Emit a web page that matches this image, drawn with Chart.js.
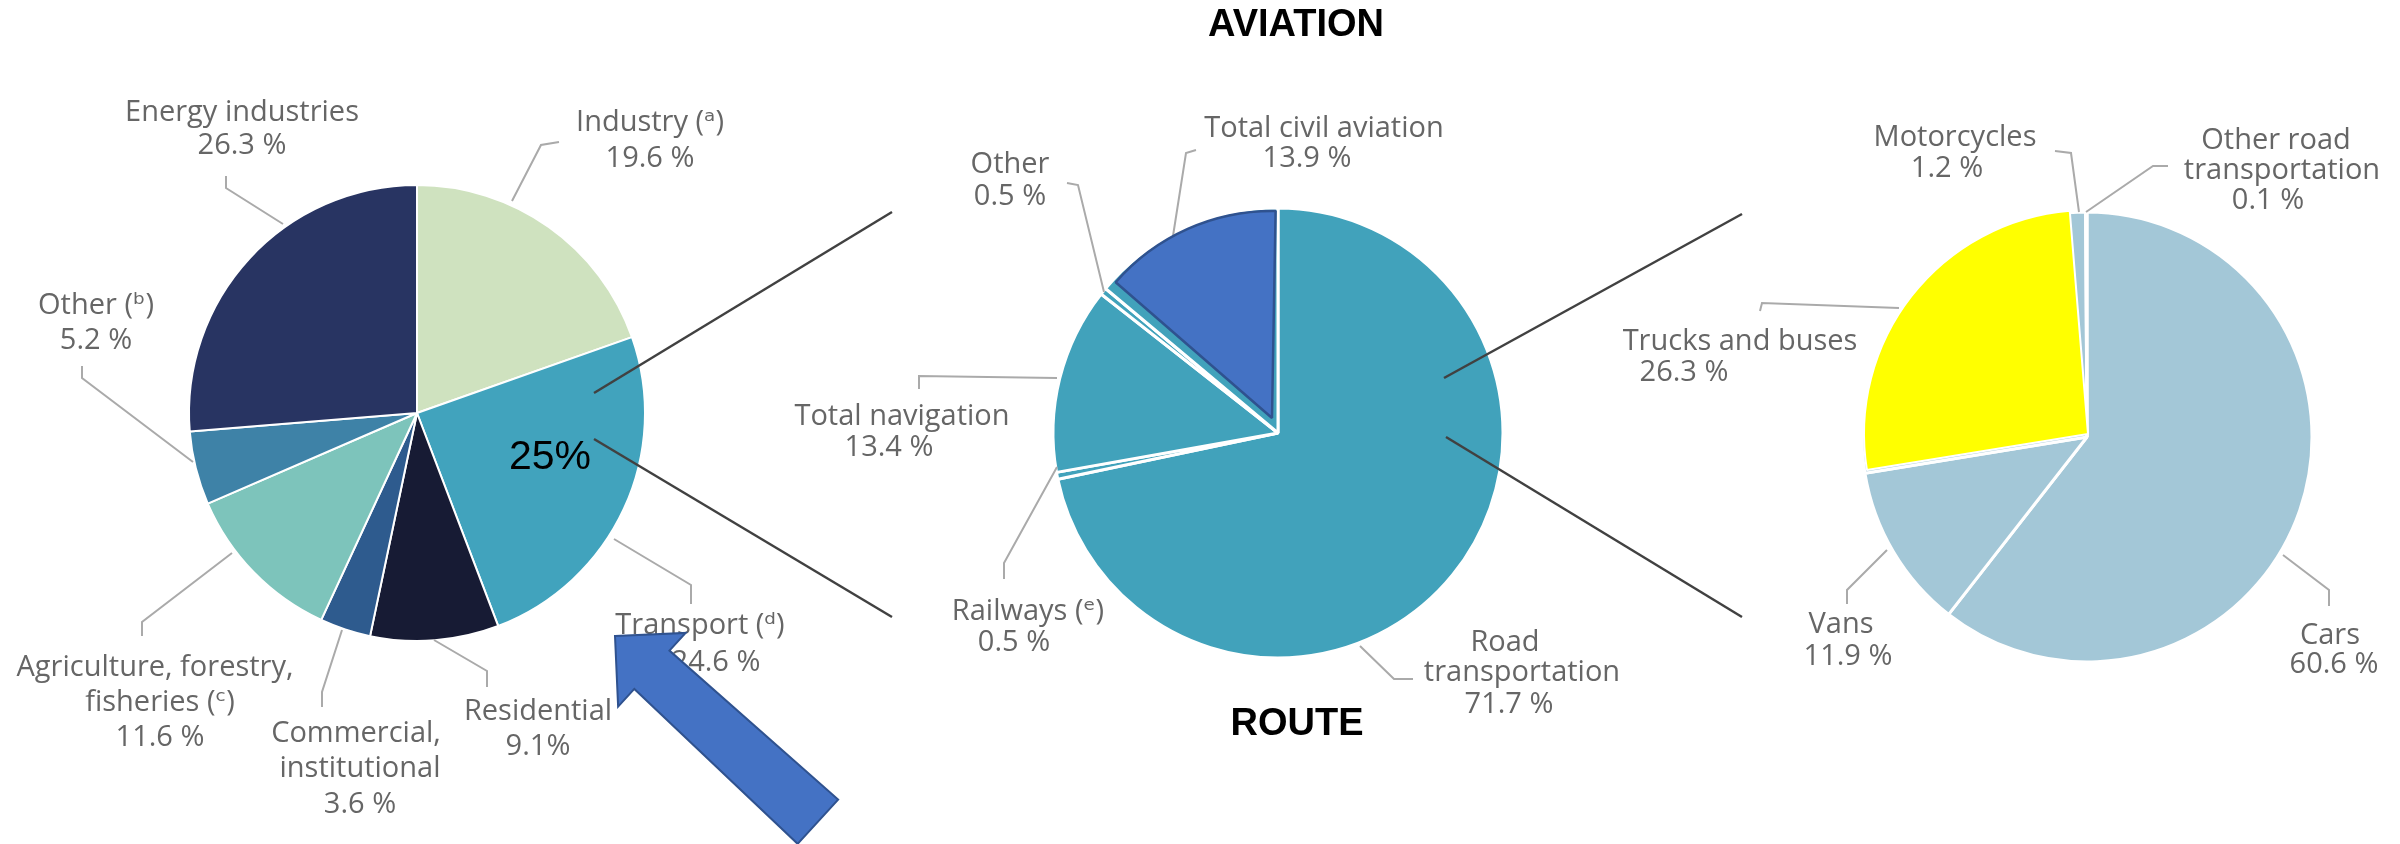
<!DOCTYPE html>
<html>
<head>
<meta charset="utf-8">
<script src="https://cdn.jsdelivr.net/npm/chart.js@4.4.0/dist/chart.umd.min.js"></script>
<style>
html,body{margin:0;padding:0;background:#fff;}
#wrap{position:relative;width:2400px;height:844px;overflow:hidden;background:#fff;}
#wrap canvas{position:absolute;left:0;top:0;}
</style>
</head>
<body>
<div id="wrap">
<canvas id="pie1" width="2400" height="844"></canvas>
<canvas id="pie2" width="2400" height="844"></canvas>
<canvas id="pie2hi" width="2400" height="844"></canvas>
<canvas id="pie3" width="2400" height="844"></canvas>
<canvas id="pie3hi" width="2400" height="844"></canvas>
</div>
<script>
// ---------------- DATA ----------------
const sectorLabels = [['Industry (ᵃ)'], ['Transport (ᵈ)'], ['Residential'], ['Commercial,', 'institutional'],
  ['Agriculture, forestry,', 'fisheries (ᶜ)'], ['Other (ᵇ)'], ['Energy industries']];
const sectorValues = [19.6, 24.6, 9.1, 3.6, 11.6, 5.2, 26.3];

const transportLabels = [['Road', 'transportation'], ['Railways (ᵉ)'], ['Total navigation'], ['Other'], ['Total civil aviation']];
const transportValues = [71.7, 0.5, 13.4, 0.5, 13.9];

const roadLabels = [['Cars'], ['Vans'], ['Trucks and buses'], ['Motorcycles'], ['Other road', 'transportation']];
const roadValues = [60.6, 11.9, 26.3, 1.2, 0.1];

const titleTop = 'AVIATION';
const titleBottom = 'ROUTE';

// ---------------- LAYOUT / STYLE ----------------
const W = 2400, H = 844;
const TEXT_FONT = "29px 'Open Sans', 'DejaVu Sans', sans-serif";
const TEXT_COLOR = '#666666';
const LEADER_COLOR = '#aaaaaa';

function pad(cx, cy) {
  const p = {left: 0, right: 0, top: 0, bottom: 0};
  if (cx * 2 < W) p.right = W - 2 * cx; else p.left = 2 * cx - W;
  if (cy * 2 < H) p.bottom = H - 2 * cy; else p.top = 2 * cy - H;
  return p;
}
function fmt(v, sep) { return v.toFixed(1) + (sep === undefined ? ' ' : sep) + '%'; }

// callout layout: index into data, leader path, text line centres (name lines + value line)
const pie1Callouts = [
  {i: 0, path: [[512,201],[541,145],[559,142]], pos: [[650,123],[650,159]]},
  {i: 1, path: [[614,539],[691,585],[691,604]], pos: [[700,626],[716,663]]},
  {i: 2, path: [[434,640],[487,671],[487,687]], pos: [[538,712],[538,747]], sep: ''},
  {i: 3, path: [[342,630],[322,692],[322,707]], pos: [[356,734],[360,769],[360,805]]},
  {i: 4, path: [[232,553],[142,622],[142,636]], pos: [[155,668],[160,703],[160,738]]},
  {i: 5, path: [[193,462],[82,378],[82,366]], pos: [[96,306],[96,341]]},
  {i: 6, path: [[283,224],[226,188],[226,176]], pos: [[242,113],[242,146]]}
];
const pie2Callouts = [
  {i: 0, path: [[1360,646],[1394,679],[1413,679]], pos: [[1505,643],[1522,673],[1509,705]]},
  {i: 1, path: [[1057,467],[1004,563],[1004,579]], pos: [[1028,612],[1014,643]]},
  {i: 2, path: [[1057,378],[919,376],[919,389]], pos: [[902,417],[889,448]]},
  {i: 3, path: [[1104,292],[1078,185],[1067,183]], pos: [[1010,165],[1010,197]]},
  {i: 4, path: [[1173,236],[1186,153],[1196,150]], pos: [[1324,129],[1307,159]]}
];
const pie3Callouts = [
  {i: 0, path: [[2283,555],[2329,590],[2329,606]], pos: [[2330,636],[2334,665]]},
  {i: 1, path: [[1887,550],[1847,590],[1847,604]], pos: [[1841,625],[1848,657]]},
  {i: 2, path: [[1899,308],[1762,303],[1760,311]], pos: [[1740,342],[1684,373]]},
  {i: 3, path: [[2079,212],[2071,153],[2055,151]], pos: [[1955,138],[1947,169]]},
  {i: 4, path: [[2086,212],[2153,166],[2168,166]], pos: [[2276,141],[2282,171],[2268,201]]}
];

function makeCallouts(spec, labels, values) {
  return {
    id: 'callouts',
    afterDatasetsDraw(chart) {
      const ctx = chart.ctx;
      ctx.save();
      ctx.lineWidth = 2;
      ctx.strokeStyle = LEADER_COLOR;
      ctx.lineJoin = 'miter';
      spec.forEach(c => {
        ctx.beginPath();
        c.path.forEach((p, k) => k ? ctx.lineTo(p[0], p[1]) : ctx.moveTo(p[0], p[1]));
        ctx.stroke();
      });
      ctx.fillStyle = TEXT_COLOR;
      ctx.font = TEXT_FONT;
      ctx.textAlign = 'center';
      ctx.textBaseline = 'middle';
      spec.forEach(c => {
        const lab = labels[c.i];
        const lines = (Array.isArray(lab) ? lab : [lab]).concat([fmt(values[c.i], c.sep)]);
        lines.forEach((t, k) => ctx.fillText(t, c.pos[k][0], c.pos[k][1]));
      });
      ctx.restore();
    }
  };
}

const decorPlugin = {
  id: 'decor',
  afterDraw(chart) {
    const ctx = chart.ctx;
    ctx.save();
    // zoom connector lines
    ctx.strokeStyle = '#414141';
    ctx.lineWidth = 2.5;
    [[[594,393],[892,212]], [[594,439],[892,617]], [[1444,378],[1742,214]], [[1446,437],[1742,617]]].forEach(l => {
      ctx.beginPath(); ctx.moveTo(l[0][0], l[0][1]); ctx.lineTo(l[1][0], l[1][1]); ctx.stroke();
    });
    // share of transport
    ctx.fillStyle = '#000';
    ctx.textAlign = 'center';
    ctx.textBaseline = 'middle';
    ctx.font = "41px 'Liberation Sans', Arial, sans-serif";
    ctx.fillText(Math.round(sectorValues[1]) + '%', 550, 458);
    // titles
    ctx.font = "bold 38px 'Liberation Sans', Arial, sans-serif";
    ctx.fillText(titleTop, 1296, 26);
    ctx.fillText(titleBottom, 1297, 725);
    // arrow
    const T = [615, 636];
    const u = [0.7377, 0.6753], n = [-0.6753, 0.7377];
    const pt = (a, b) => [T[0] + u[0]*a + n[0]*b, T[1] + u[1]*a + n[1]*b];
    const poly = [pt(0,0), pt(50,-50), pt(50,-26), pt(275,-30), pt(275,30), pt(50,26), pt(50,50)];
    ctx.beginPath();
    poly.forEach((p, k) => k ? ctx.lineTo(p[0], p[1]) : ctx.moveTo(p[0], p[1]));
    ctx.closePath();
    ctx.fillStyle = '#4472c4';
    ctx.fill();
    ctx.strokeStyle = '#2f528f';
    ctx.lineWidth = 2;
    ctx.stroke();
    ctx.restore();
  }
};

function pieChart(id, cfg) {
  return new Chart(document.getElementById(id), {
    type: 'pie',
    data: {
      labels: cfg.labels,
      datasets: [{
        data: cfg.values,
        backgroundColor: cfg.colors,
        borderColor: cfg.borderColors || '#ffffff',
        borderWidth: cfg.borderWidth,
        radius: cfg.radius,
        rotation: cfg.rotation || 0
      }]
    },
    options: {
      responsive: false,
      animation: false,
      events: [],
      radius: cfg.radius,
      rotation: cfg.rotation || 0,
      layout: {padding: pad(cfg.cx, cfg.cy)},
      plugins: {legend: {display: false}, tooltip: {enabled: false}, title: {display: false}}
    },
    plugins: cfg.plugins || []
  });
}

const CLEAR = 'rgba(0,0,0,0)';

pieChart('pie1', {
  labels: sectorLabels, values: sectorValues,
  colors: ['#cfe2bf', '#41a3bd', '#171b34', '#2e5b8e', '#7dc4bb', '#3e82a7', '#283462'],
  borderWidth: 2, radius: 228, cx: 417, cy: 413,
  plugins: [makeCallouts(pie1Callouts, sectorLabels, sectorValues)]
});

pieChart('pie2', {
  labels: transportLabels, values: transportValues,
  colors: transportValues.map(() => '#41a2bb'),
  borderWidth: 3, radius: 225, cx: 1278, cy: 433,
  plugins: [makeCallouts(pie2Callouts, transportLabels, transportValues)]
});

pieChart('pie2hi', {
  labels: transportLabels, values: transportValues,
  colors: transportValues.map((v, k) => k === 4 ? '#4472c4' : CLEAR),
  borderColors: transportValues.map((v, k) => k === 4 ? '#2f528f' : CLEAR),
  borderWidth: 2.5, radius: 207, rotation: 1, cx: 1272, cy: 418
});

pieChart('pie3', {
  labels: roadLabels, values: roadValues,
  colors: roadValues.map(() => '#a3c7d7'),
  borderWidth: 3, radius: 225, cx: 2087, cy: 437,
  plugins: [makeCallouts(pie3Callouts, roadLabels, roadValues)]
});

pieChart('pie3hi', {
  labels: roadLabels, values: roadValues,
  colors: roadValues.map((v, k) => k === 2 ? '#ffff00' : CLEAR),
  borderColors: roadValues.map((v, k) => k === 2 ? '#ffffff' : CLEAR),
  borderWidth: 2, radius: 224, cx: 2088, cy: 434,
  plugins: [decorPlugin]
});
</script>
</body>
</html>
